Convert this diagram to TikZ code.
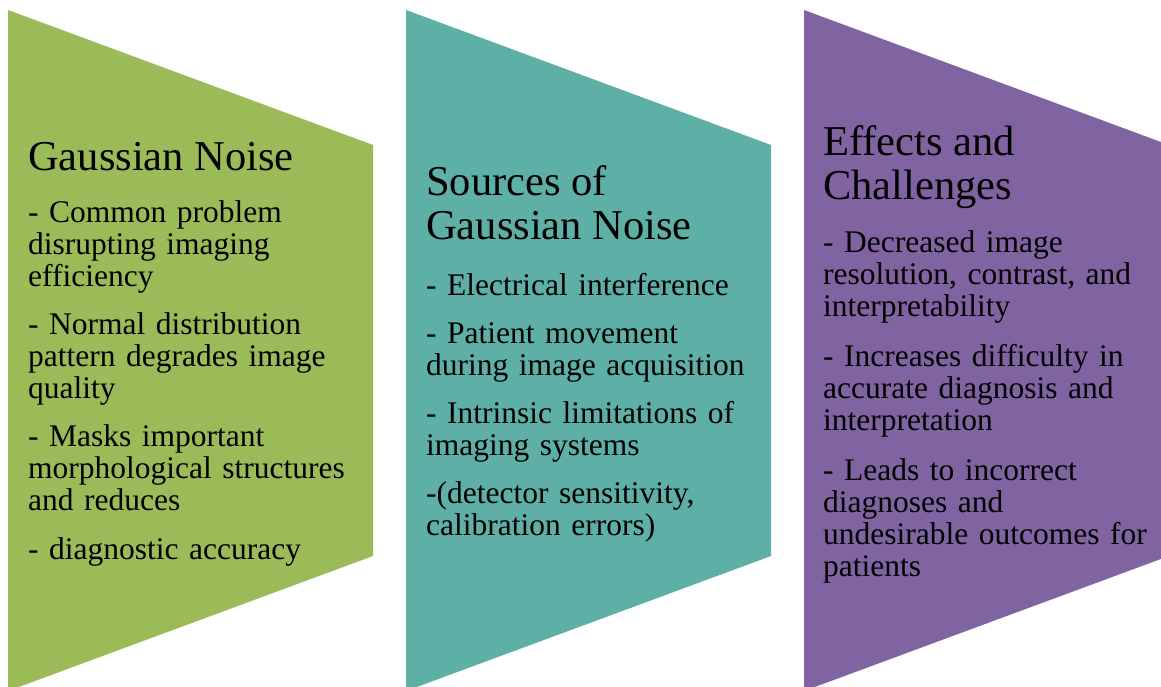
\documentclass[tikz,border=0pt]{standalone}
\usepackage{fontspec}
\usepackage{xcolor}
\setmainfont{Liberation Serif}

\definecolor{noisegreen}{HTML}{9BBB59}
\definecolor{sourceteal}{HTML}{5EAFA6}
\definecolor{effectpurple}{HTML}{8064A2}

\tikzset{
  paneltext/.style={anchor=base west, inner sep=0pt, text width=340pt, align=left,
    font=\fontsize{31.5}{32}\selectfont},
}
\newcommand{\paneltitle}[2][20pt]{{\fontsize{42.5}{44}\selectfont #2\par}\vspace{#1}}

\begin{document}
\begin{tikzpicture}[x=1pt,y=1pt]
            \clip (0,0) rectangle (1161,687);

            \begin{scope}[shift={(8,677)}]
                \fill[color=noisegreen] (0,0) -- (365,-135) -- (365,-546) -- (0,-681) -- cycle;
                \node[paneltext] (noise) at (20,-161) {\paneltitle{Gaussian Noise}
                    - Common problem\\ disrupting imaging\\ efficiency\\[16pt]
                    - Normal distribution\\ pattern degrades image\\ quality\\[16pt]
                    - Masks important\\ morphological structures\\ and reduces\\[17pt]
                    - diagnostic accuracy};
            \end{scope}

            \begin{scope}[shift={(406,677)}]
                \fill[color=sourceteal] (0,0) -- (365,-135) -- (365,-546) -- (0,-681) -- cycle;
                \node[paneltext] (sources) at (20,-186) {\paneltitle[24pt]{Sources of\\ Gaussian Noise}
                    - Electrical interference\\[16pt]
                    - Patient movement\\ during image acquisition\\[16pt]
                    - Intrinsic limitations of\\ imaging systems\\[16pt]
                    -(detector sensitivity,\\ calibration errors)};
            \end{scope}

            \begin{scope}[shift={(804,677)}]
                \fill[color=effectpurple] (0,0) -- (365,-135) -- (365,-546) -- (0,-681) -- cycle;
                \node[paneltext] (effects) at (19,-146) {\paneltitle[21pt]{Effects and\\ Challenges}
                    - Decreased image\\ resolution, contrast, and\\ interpretability\\[18pt]
                    - Increases difficulty in\\ accurate diagnosis and\\ interpretation\\[18pt]
                    - Leads to incorrect\\ diagnoses and\\ undesirable outcomes for\\ patients};
            \end{scope}
        \end{tikzpicture}
\end{document}
